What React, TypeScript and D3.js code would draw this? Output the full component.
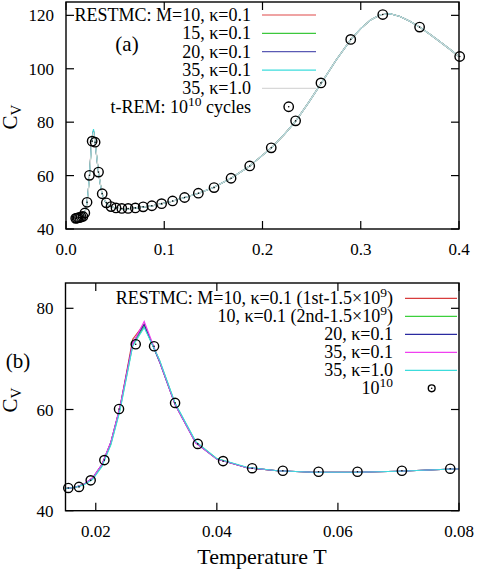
import React from "react";
import * as d3 from "d3";

// ---------- DATA ----------
// t-REM (10^10 cycles) points
const tremT = [0.00987, 0.01104, 0.01235, 0.01382, 0.01546, 0.01723, 0.01916, 0.02142, 0.02384, 0.0266, 0.02963, 0.0331, 0.03685, 0.04103, 0.04583, 0.0509, 0.0568, 0.06323, 0.07057, 0.07855, 0.0874, 0.0973, 0.1085, 0.1207, 0.1347, 0.1507, 0.168, 0.187, 0.2089, 0.2337, 0.2595, 0.2898, 0.3224, 0.3599, 0.4007];
const tremC = [44.0, 44.1, 44.2, 44.3, 44.5, 44.7, 46.0, 50.0, 60.1, 72.9, 72.5, 61.3, 53.2, 49.8, 48.4, 47.9, 47.7, 47.7, 47.9, 48.3, 48.7, 49.5, 50.5, 51.8, 53.4, 55.5, 59.0, 63.6, 70.4, 80.5, 94.7, 111.0, 120.3, 115.6, 104.6];

// RESTMC temperature grid
const lineT = [0.015, 0.0165, 0.018, 0.0195, 0.021, 0.0225, 0.024, 0.0261, 0.028, 0.0305, 0.0331, 0.0365, 0.040, 0.045, 0.050, 0.056, 0.063, 0.070, 0.078, 0.087, 0.097, 0.108, 0.120, 0.135, 0.150, 0.168, 0.187, 0.209, 0.222, 0.234, 0.247, 0.260, 0.275, 0.290, 0.300, 0.310, 0.320, 0.330, 0.340, 0.350, 0.360, 0.370, 0.380, 0.390, 0.400];
const cM10first = [44.4, 44.6, 45.2, 46.4, 49.0, 53.5, 60.4, 73.9, 76.9, 69.6, 61.0, 53.5, 50.2, 48.5, 47.9, 47.6, 47.6, 47.8, 48.2, 48.6, 49.4, 50.4, 51.7, 53.4, 55.5, 59.0, 63.6, 70.4, 75.3, 80.5, 87.4, 94.7, 103.3, 111.0, 115.0, 118.3, 120.2, 120.6, 119.6, 117.8, 115.6, 113.0, 110.3, 107.5, 104.6];
const cM10second = [44.4, 44.6, 45.2, 46.3, 48.8, 53.2, 60.0, 72.7, 76.4, 69.8, 61.2, 53.6, 50.3, 48.5, 47.9, 47.6, 47.6, 47.8, 48.2, 48.6, 49.4, 50.4, 51.7, 53.4, 55.5, 59.0, 63.6, 70.4, 75.3, 80.5, 87.4, 94.7, 103.3, 111.0, 115.0, 118.3, 120.2, 120.6, 119.6, 117.8, 115.6, 113.0, 110.3, 107.5, 104.6];
const cM15 = [44.4, 44.6, 45.2, 46.4, 48.9, 53.3, 60.2, 72.9, 76.6, 69.7, 61.1, 53.5, 50.2, 48.5, 47.9, 47.6, 47.6, 47.8, 48.2, 48.6, 49.4, 50.4, 51.7, 53.4, 55.5, 59.0, 63.6, 70.4, 75.3, 80.5, 87.4, 94.7, 103.3, 111.0, 115.0, 118.3, 120.2, 120.6, 119.6, 117.8, 115.6, 113.0, 110.3, 107.5, 104.6];
const cM20 = [44.4, 44.6, 45.2, 46.5, 49.1, 53.6, 60.5, 73.1, 76.8, 69.5, 61.0, 53.4, 50.2, 48.5, 47.9, 47.6, 47.6, 47.8, 48.2, 48.6, 49.4, 50.4, 51.7, 53.4, 55.5, 59.0, 63.6, 70.4, 75.3, 80.5, 87.4, 94.7, 103.3, 111.0, 115.0, 118.3, 120.2, 120.6, 119.6, 117.8, 115.6, 113.0, 110.3, 107.5, 104.6];
const cM35k01 = [44.4, 44.6, 45.2, 46.5, 49.1, 53.6, 60.5, 73.0, 77.4, 69.6, 61.0, 53.4, 50.2, 48.5, 47.9, 47.6, 47.6, 47.8, 48.2, 48.6, 49.4, 50.4, 51.7, 53.4, 55.5, 59.0, 63.6, 70.4, 75.3, 80.5, 87.4, 94.7, 103.3, 111.0, 115.0, 118.3, 120.2, 120.6, 119.6, 117.8, 115.6, 113.0, 110.3, 107.5, 104.6];
const cM35k10 = [44.4, 44.6, 45.1, 46.2, 48.7, 53.0, 59.8, 72.5, 76.2, 69.9, 61.3, 53.7, 50.3, 48.6, 47.9, 47.6, 47.6, 47.8, 48.2, 48.6, 49.4, 50.4, 51.7, 53.4, 55.5, 59.0, 63.6, 70.4, 75.3, 80.5, 87.4, 94.7, 103.3, 111.0, 115.0, 118.3, 120.2, 120.6, 119.6, 117.8, 115.6, 113.0, 110.3, 107.5, 104.6];

const topXTicks = [0, 0.1, 0.2, 0.3, 0.4];
const topXTickLabels = ["0.0", "0.1", "0.2", "0.3", "0.4"];
const topYTicks = [40, 60, 80, 100, 120];
const botXTicks = [0.02, 0.04, 0.06, 0.08];
const botXTickLabels = ["0.02", "0.04", "0.06", "0.08"];
const botYTicks = [40, 60, 80];

const FONT = "'Liberation Serif', 'Times New Roman', serif";

type Series = { values: number[]; color: string; label: React.ReactNode };

const topSeries: Series[] = [
  { values: cM10first, color: "#e04848", label: <>RESTMC: M=10, κ=0.1</> },
  { values: cM15, color: "#3cc83c", label: <>15, κ=0.1</> },
  { values: cM20, color: "#5a5ab4", label: <>20, κ=0.1</> },
  { values: cM35k01, color: "#3cdcdc", label: <>35, κ=0.1</> },
  { values: cM35k10, color: "#d8d8d8", label: <>35, κ=1.0</> },
];

const sup = (s: string, fs: number) => (
  <tspan dy={-fs * 0.4} fontSize={fs * 0.75}>{s}</tspan>
);

const botSeries: Series[] = [
  { values: cM10first, color: "#d83c3c", label: null },
  { values: cM10second, color: "#3cd03c", label: null },
  { values: cM20, color: "#2a2aa0", label: null },
  { values: cM35k01, color: "#f040f0", label: null },
  { values: cM35k10, color: "#3cdcdc", label: null },
];

function Circle({ cx, cy, r }: { cx: number; cy: number; r: number }) {
  return (
    <g>
      <circle cx={cx} cy={cy} r={r} fill="none" stroke="#000" strokeWidth={1.4} />
      <circle cx={cx} cy={cy} r={0.8} fill="#000" />
    </g>
  );
}

function Frame({ x0, x1, y0, y1, xs, ys, xTicks, yTicks, xLabels, yLabels, fs }: any) {
  const tl = 8;
  return (
    <g>
      <rect x={x0} y={y0} width={x1 - x0} height={y1 - y0} fill="none" stroke="#000" strokeWidth={1.4} />
      {xTicks.map((t: number, i: number) => (
        <g key={"x" + i}>
          <line x1={xs(t)} x2={xs(t)} y1={y1} y2={y1 - tl} stroke="#000" strokeWidth={1.2} />
          <line x1={xs(t)} x2={xs(t)} y1={y0} y2={y0 + tl} stroke="#000" strokeWidth={1.2} />
          <text x={xs(t)} y={y1 + 26} textAnchor="middle" fontSize={fs} fontFamily={FONT}>{xLabels[i]}</text>
        </g>
      ))}
      {yTicks.map((t: number, i: number) => (
        <g key={"y" + i}>
          <line x1={x0} x2={x0 + tl} y1={ys(t)} y2={ys(t)} stroke="#000" strokeWidth={1.2} />
          <line x1={x1} x2={x1 - tl} y1={ys(t)} y2={ys(t)} stroke="#000" strokeWidth={1.2} />
          <text x={x0 - 12} y={ys(t) + 6} textAnchor="end" fontSize={fs} fontFamily={FONT}>{yLabels[i]}</text>
        </g>
      ))}
    </g>
  );
}

export default function App() {
  // top panel
  const tX0 = 66, tX1 = 459, tY0 = 2, tY1 = 229;
  const txs = d3.scaleLinear().domain([0, 0.4]).range([tX0, tX1]);
  const tys = d3.scaleLinear().domain([40, 125]).range([tY1, tY0]);
  // bottom panel
  const bX0 = 65.5, bX1 = 459, bY0 = 283, bY1 = 510.7;
  const bxs = d3.scaleLinear().domain([0.015, 0.08]).range([bX0, bX1]);
  const bys = d3.scaleLinear().domain([40, 85]).range([bY1, bY0]);

  const tLine = d3.line<number>().x((_, i) => txs(lineT[i])).y((v) => tys(v));
  const bLine = d3.line<number>().x((_, i) => bxs(lineT[i])).y((v) => bys(v));

  const fs = 17;
  const lfs = 18;

  const tLegX = 251, tLegL0 = 262, tLegL1 = 316, tLegY0 = 15, tLegDy = 18.35;
  const bLegX = 393, bLegL0 = 405, bLegL1 = 457, bLegY0 = 298.3, bLegDy = 18;

  const botLabels: React.ReactNode[] = [
    <>RESTMC: M=10, κ=0.1 (1st-1.5×10{sup("9", lfs)}<tspan dy={lfs * 0.4}>)</tspan></>,
    <>10, κ=0.1 (2nd-1.5×10{sup("9", lfs)}<tspan dy={lfs * 0.4}>)</tspan></>,
    <>20, κ=0.1</>,
    <>35, κ=0.1</>,
    <>35, κ=1.0</>,
  ];

  return (
    <svg width={478} height={570} style={{ position: "absolute", left: 0, top: 0, background: "#fff" }}>
      <defs>
        <clipPath id="clipTop"><rect x={tX0} y={tY0} width={tX1 - tX0} height={tY1 - tY0} /></clipPath>
        <clipPath id="clipBot"><rect x={bX0} y={bY0} width={bX1 - bX0} height={bY1 - bY0} /></clipPath>
      </defs>

      {/* ---------- TOP PANEL ---------- */}
      <g clipPath="url(#clipTop)">
        {topSeries.map((s, i) => (
          <path key={i} d={tLine(s.values) || ""} fill="none" stroke={s.color} strokeWidth={1.1} />
        ))}
      </g>
      {tremT.map((t, i) =>
        t >= 0 && t <= 0.401 ? <Circle key={i} cx={txs(t)} cy={tys(tremC[i])} r={4.7} /> : null
      )}
      <Frame x0={tX0} x1={tX1} y0={tY0} y1={tY1} xs={txs} ys={tys} xTicks={topXTicks} yTicks={topYTicks}
        xLabels={topXTickLabels} yLabels={topYTicks.map(String)} fs={fs} />
      {/* top legend */}
      {topSeries.map((s, i) => (
        <g key={"tl" + i}>
          <text x={tLegX} y={tLegY0 + i * tLegDy + 6} textAnchor="end" fontSize={lfs} fontFamily={FONT}>{s.label}</text>
          <line x1={tLegL0} x2={tLegL1} y1={tLegY0 + i * tLegDy} y2={tLegY0 + i * tLegDy} stroke={s.color} strokeWidth={1.2} />
        </g>
      ))}
      <text x={tLegX} y={tLegY0 + 5 * tLegDy + 6} textAnchor="end" fontSize={lfs} fontFamily={FONT}>
        t-REM: 10{sup("10", lfs)}<tspan dy={lfs * 0.4}> cycles</tspan>
      </text>
      <Circle cx={288.7} cy={tLegY0 + 5 * tLegDy} r={4.7} />
      <text x={127} y={51} textAnchor="middle" fontSize={21} fontFamily={FONT}>(a)</text>
      <text transform="translate(17,117) rotate(-90)" textAnchor="middle" fontSize={21} fontFamily={FONT}>
        C<tspan fontSize={15} dy={4}>V</tspan>
      </text>

      {/* ---------- BOTTOM PANEL ---------- */}
      <g clipPath="url(#clipBot)">
        {botSeries.map((s, i) => (
          <path key={i} d={bLine(s.values) || ""} fill="none" stroke={s.color} strokeWidth={1.1} />
        ))}
      </g>
      {tremT.map((t, i) =>
        t >= 0.015 && t <= 0.0801 ? <Circle key={i} cx={bxs(t)} cy={bys(tremC[i])} r={4.6} /> : null
      )}
      <Frame x0={bX0} x1={bX1} y0={bY0} y1={bY1} xs={bxs} ys={bys} xTicks={botXTicks} yTicks={botYTicks}
        xLabels={botXTickLabels} yLabels={botYTicks.map(String)} fs={fs} />
      {botSeries.map((s, i) => (
        <g key={"bl" + i}>
          <text x={bLegX} y={bLegY0 + i * bLegDy + 6} textAnchor="end" fontSize={lfs} fontFamily={FONT}>{botLabels[i]}</text>
          <line x1={bLegL0} x2={bLegL1} y1={bLegY0 + i * bLegDy} y2={bLegY0 + i * bLegDy} stroke={s.color} strokeWidth={1.2} />
        </g>
      ))}
      <text x={bLegX} y={bLegY0 + 5 * bLegDy + 6} textAnchor="end" fontSize={lfs} fontFamily={FONT}>
        10{sup("10", lfs)}
      </text>
      <Circle cx={431.7} cy={bLegY0 + 5 * bLegDy} r={3.4} />
      <text x={18} y={368} textAnchor="middle" fontSize={21} fontFamily={FONT}>(b)</text>
      <text transform="translate(17,400) rotate(-90)" textAnchor="middle" fontSize={21} fontFamily={FONT}>
        C<tspan fontSize={15} dy={4}>V</tspan>
      </text>
      <text x={262} y={564} textAnchor="middle" fontSize={22} fontFamily={FONT}>Temperature T</text>
    </svg>
  );
}
